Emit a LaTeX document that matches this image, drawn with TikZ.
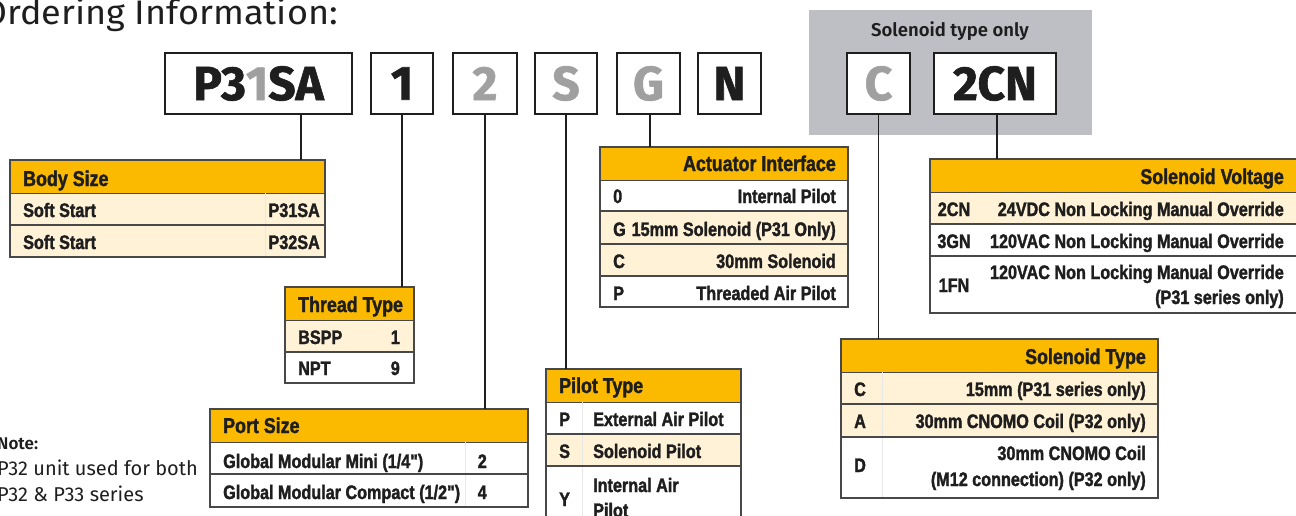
\documentclass[tikz,border=0pt]{standalone}
\usepackage{fontspec}
\newfontfamily\tcond{Liberation Sans}[FakeStretch=0.83, BoldFont={* Bold}, BoldFeatures={FakeBold=1.6}]
\IfFontExistsTF{Fira Sans Book}{%
  \newfontfamily\titlef{Fira Sans Book}[FakeStretch=1.06]
  \newfontfamily\lightf{Fira Sans Book}}{%
  \newfontfamily\titlef{Fira Sans}[FakeStretch=1.06]
  \newfontfamily\lightf{Fira Sans}}
\newfontfamily\codef{Fira Sans}[UprightFont=*,BoldFont=* Bold, BoldFeatures={FakeBold=1.2}]
\IfFontExistsTF{Fira Sans SemiBold}{%
  \newfontfamily\semif{Fira Sans SemiBold}}{%
  \newfontfamily\semif{Fira Sans}[UprightFont=* Bold]}
\definecolor{hdr}{RGB}{251,186,0}
\definecolor{cream}{RGB}{255,242,214}
\definecolor{panel}{RGB}{189,191,197}
\definecolor{greytxt}{RGB}{160,160,160}
\definecolor{bord}{RGB}{72,72,72}
\definecolor{ink}{RGB}{30,30,30}
\begin{document}
\begin{tikzpicture}[x=1pt,y=-1pt,
  codebox/.style={draw=ink, line width=2pt, fill=white, minimum height=61pt, inner sep=0pt, font=\codef\bfseries\fontsize{48}{48}\selectfont, text=ink},
  hdrbox/.style={draw=bord, line width=1.2pt, fill=hdr, inner sep=0pt, minimum height=33pt, anchor=north west},
  hdrtxt/.style={font=\tcond\bfseries\fontsize{21.5}{24}\selectfont, text=ink, inner sep=0pt},
  rowtxt/.style={font=\tcond\bfseries\fontsize{19.5}{24}\selectfont, text=ink, inner sep=0pt},
  conn/.style={draw=ink, line width=1.4pt},
  sep/.style={draw=bord, line width=1.2pt},
  faint/.style={draw=black!9, line width=0.6pt}]
\useasboundingbox (0,0) rectangle (1296,515);
\clip (0,0) rectangle (1296,515);

% title
\node[font=\titlef\fontsize{34}{36}\selectfont, anchor=base east, inner sep=0pt, text=ink] (title) at (338,24) {Ordering Information:};

% grey panel
\fill[panel] (809,10) rectangle (1092,135);
\node[font=\semif\fontsize{18.5}{20}\selectfont, anchor=base, inner sep=0pt, text=ink] (solonly) at (950,36) {Solenoid type only};

% code boxes
\node[codebox, minimum width=187pt] (p31sa) at (258.5,83.5) {P3{\color{greytxt}1}SA};
\node[codebox, minimum width=62pt] (c1) at (402,83.5) {1};
\node[codebox, minimum width=64pt, text=greytxt] (c2) at (485,83.5) {2};
\node[codebox, minimum width=62pt, text=greytxt] (cs) at (566,83.5) {S};
\node[codebox, minimum width=63pt, text=greytxt] (cg) at (648.5,83.5) {G};
\node[codebox, minimum width=63pt] (cn) at (729.5,83.5) {N};
\node[codebox, minimum width=63pt, text=greytxt] (cc) at (878.5,83.5) {C};
\node[codebox, minimum width=122pt] (c2cn) at (995,83.5) {2CN};

% ---- Body Size
\fill[cream] (10,193) rectangle (325,257);
\node[hdrbox, minimum width=315pt] (bodyh) at (10,160) {};
\draw[faint] (265,193) -- (265,257);
\draw[sep] (10,225) -- (325,225);
\draw[sep] (10,160) rectangle (325,257);
\node[hdrtxt, anchor=base west] (bodyt) at (23,186) {Body Size};
\node[rowtxt, anchor=base west] (b1l) at (23,217) {Soft Start};
\node[rowtxt, anchor=base east] (b1r) at (320,217) {P31SA};
\node[rowtxt, anchor=base west] (b2l) at (23,249) {Soft Start};
\node[rowtxt, anchor=base east] (b2r) at (320,249) {P32SA};

% ---- Thread Type
\fill[cream] (285,320) rectangle (414,352);
\fill[white] (285,352) rectangle (414,383);
\node[hdrbox, minimum width=129pt] (threadh) at (285,287) {};
\draw[sep] (285,352) -- (414,352);
\draw[sep] (285,287) rectangle (414,383);
\node[hdrtxt, anchor=base west] (threadt) at (298,312) {Thread Type};
\node[rowtxt, anchor=base west] (t1l) at (298,344) {BSPP};
\node[rowtxt, anchor=base east] (t1r) at (400,344) {1};
\node[rowtxt, anchor=base west] (t2l) at (298,375) {NPT};
\node[rowtxt, anchor=base east] (t2r) at (400,375) {9};

% ---- Port Size
\fill[white] (210,442) rectangle (528,507);
\node[hdrbox, minimum width=318pt] (porth) at (210,409) {};
\draw[faint] (465,442) -- (465,507);
\draw[sep] (210,474) -- (528,474);
\draw[sep] (210,409) rectangle (528,507);
\node[hdrtxt, anchor=base west] (portt) at (223,433) {Port Size};
\node[rowtxt, anchor=base west] (p1l) at (223,468) {Global Modular Mini (1/4")};
\node[rowtxt, anchor=base east] (p1r) at (487,468) {2};
\node[rowtxt, anchor=base west] (p2l) at (223,499) {Global Modular Compact (1/2")};
\node[rowtxt, anchor=base east] (p2r) at (487,499) {4};

% ---- Pilot Type
\fill[white] (546,402) rectangle (741,540);
\fill[cream] (546,434) rectangle (741,466);
\node[hdrbox, minimum width=195pt] (piloth) at (546,369) {};
\draw[faint] (582,402) -- (582,540);
\draw[sep] (546,434) -- (741,434);
\draw[sep] (546,466) -- (741,466);
\draw[sep] (546,369) rectangle (741,540);
\node[hdrtxt, anchor=base west] (pilott) at (559,393) {Pilot Type};
\node[rowtxt, anchor=base west] (pl1a) at (559,426) {P};
\node[rowtxt, anchor=base west] (pl1b) at (593,426) {External Air Pilot};
\node[rowtxt, anchor=base west] (pl2a) at (559,458) {S};
\node[rowtxt, anchor=base west] (pl2b) at (593,458) {Solenoid Pilot};
\node[rowtxt, anchor=base west] (pl3a) at (559,506) {Y};
\node[rowtxt, anchor=base west] (pl3b) at (593,492) {Internal Air};
\node[rowtxt, anchor=base west] (pl3c) at (593,517) {Pilot};

% ---- Actuator Interface
\fill[white] (600,179) rectangle (848,307);
\fill[cream] (600,211) rectangle (848,276);
\node[hdrbox, minimum width=248pt] (acth) at (600,147) {};
\draw[sep] (600,211) -- (848,211);
\draw[sep] (600,244) -- (848,244);
\draw[sep] (600,276) -- (848,276);
\draw[sep] (600,147) rectangle (848,307);
\node[hdrtxt, anchor=base east] (actt) at (836,171) {Actuator Interface};
\node[rowtxt, anchor=base west] (a1l) at (613,203) {0};
\node[rowtxt, anchor=base east] (a1r) at (836,203) {Internal Pilot};
\node[rowtxt, anchor=base west] (a2l) at (613,236) {G};
\node[rowtxt, anchor=base east] (a2r) at (836,236) {15mm Solenoid (P31 Only)};
\node[rowtxt, anchor=base west] (a3l) at (613,268) {C};
\node[rowtxt, anchor=base east] (a3r) at (836,268) {30mm Solenoid};
\node[rowtxt, anchor=base west] (a4l) at (613,300) {P};
\node[rowtxt, anchor=base east] (a4r) at (836,300) {Threaded Air Pilot};

% ---- Solenoid Voltage
\fill[white] (930,192) rectangle (1310,313);
\fill[cream] (930,192) rectangle (1310,224);
\node[hdrbox, minimum width=380pt] (volth) at (930,159) {};
\draw[sep] (930,224) -- (1310,224);
\draw[sep] (930,256) -- (1310,256);
\draw[sep] (930,159) rectangle (1310,313);
\node[hdrtxt, anchor=base east] (voltt) at (1284,184) {Solenoid Voltage};
\node[rowtxt, anchor=base] (v1l) at (954,216) {2CN};
\node[rowtxt, anchor=base east] (v1r) at (1284,216) {24VDC Non Locking Manual Override};
\node[rowtxt, anchor=base] (v2l) at (954,248) {3GN};
\node[rowtxt, anchor=base east] (v2r) at (1284,248) {120VAC Non Locking Manual Override};
\node[rowtxt, anchor=base] (v3l) at (954,292) {1FN};
\node[rowtxt, anchor=base east] (v3r) at (1284,279) {120VAC Non Locking Manual Override};
\node[rowtxt, anchor=base east] (v3s) at (1284,304) {(P31 series only)};

% ---- Solenoid Type
\fill[white] (841,372) rectangle (1158,498);
\fill[cream] (841,372) rectangle (1158,437);
\node[hdrbox, minimum width=317pt] (solth) at (841,339) {};
\draw[faint] (882,372) -- (882,498);
\draw[sep] (841,404) -- (1158,404);
\draw[sep] (841,437) -- (1158,437);
\draw[sep] (841,339) rectangle (1158,498);
\node[hdrtxt, anchor=base east] (soltt) at (1146,364) {Solenoid Type};
\node[rowtxt, anchor=base west] (s1l) at (854,396) {C};
\node[rowtxt, anchor=base east] (s1r) at (1146,396) {15mm (P31 series only)};
\node[rowtxt, anchor=base west] (s2l) at (854,428) {A};
\node[rowtxt, anchor=base east] (s2r) at (1146,428) {30mm CNOMO Coil (P32 only)};
\node[rowtxt, anchor=base west] (s3l) at (854,472) {D};
\node[rowtxt, anchor=base east] (s3r) at (1146,460) {30mm CNOMO Coil};
\node[rowtxt, anchor=base east] (s3s) at (1146,486) {(M12 connection) (P32 only)};

% ---- connectors
\draw[conn] ([xshift=42.5pt]p31sa.south) -- ([xshift=42.5pt]p31sa.south |- bodyh.north);
\draw[conn] (c1.south) -- (c1.south |- threadh.north);
\draw[conn] (c2.south) -- (c2.south |- porth.north);
\draw[conn] (cs.south) -- (cs.south |- piloth.north);
\draw[conn] ([xshift=1.5pt]cg.south) -- ([xshift=1.5pt]cg.south |- acth.north);
\draw[conn] (cc.south) -- (cc.south |- solth.north);
\draw[conn] ([xshift=2pt]c2cn.south) -- ([xshift=2pt]c2cn.south |- volth.north);

% ---- note
\node[font=\semif\fontsize{17}{20}\selectfont, anchor=base west, inner sep=0pt, text=ink] (note) at (-3,449) {Note:};
\node[font=\lightf\fontsize{20}{26}\selectfont, anchor=base west, inner sep=0pt, text=ink] (note1) at (-3,475) {P32 unit used for both};
\node[font=\lightf\fontsize{20}{26}\selectfont, anchor=base west, inner sep=0pt, text=ink] (note2) at (-3,501) {P32 \& P33 series};
\end{tikzpicture}
\end{document}
